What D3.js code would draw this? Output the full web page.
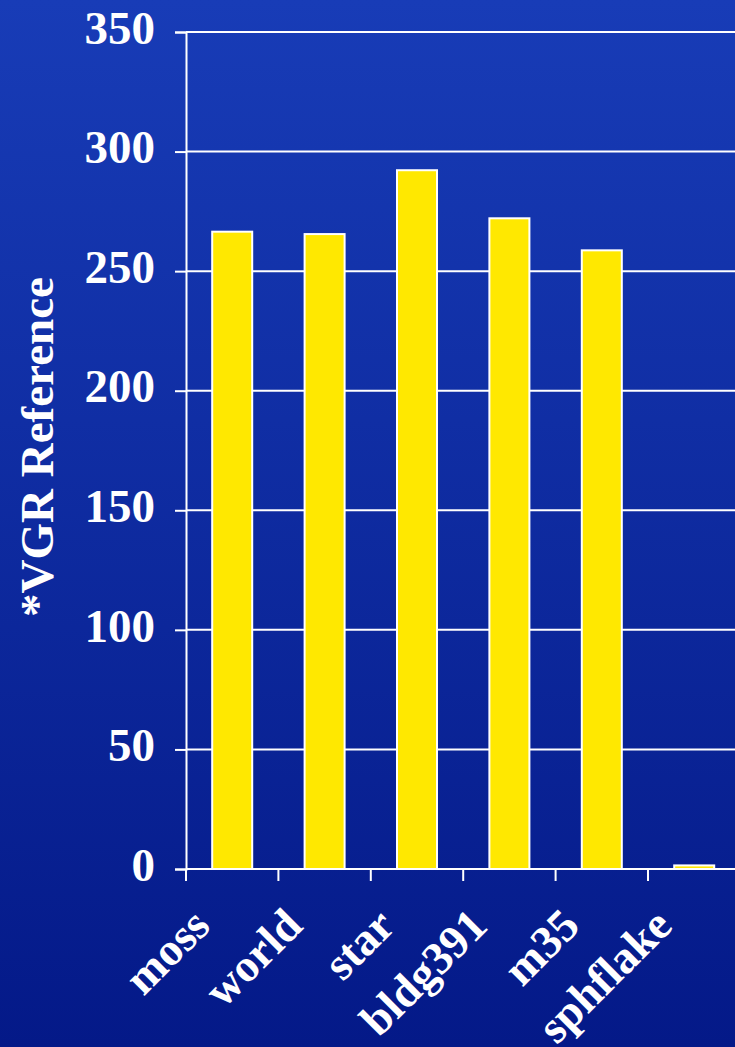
<!DOCTYPE html>
<html>
<head>
<meta charset="utf-8">
<script src="https://cdn.jsdelivr.net/npm/d3@7"></script>
<style>
  html, body { margin: 0; padding: 0; overflow: hidden; }
  svg { display: block; }
</style>
</head>
<body>
<svg id="chart" width="735" height="1047"></svg>
<script>
const categories = ["moss", "world", "star", "bldg391", "m35", "sphflake"];
const values = [266.5, 265.5, 292.2, 272.1, 258.7, 1.5];
const yTicks = [0, 50, 100, 150, 200, 250, 300, 350];
const yTitle = "*VGR Reference";

const W = 735, H = 1047;
const svg = d3.select("#chart");
const FONT = "'Liberation Serif', 'Times New Roman', Times, serif";

// background gradient
const defs = svg.append("defs");
const grad = defs.append("linearGradient").attr("id", "bg")
  .attr("x1", 0).attr("y1", 0).attr("x2", 0).attr("y2", 1);
grad.append("stop").attr("offset", "0%").attr("stop-color", "#183cb7");
grad.append("stop").attr("offset", "100%").attr("stop-color", "#041988");
svg.append("rect").attr("width", W).attr("height", H).attr("fill", "url(#bg)");

const x0 = 186, step = 92.4;
const pad = 0.567;
const x = d3.scaleBand().domain(categories)
  .range([x0, x0 + step * categories.length])
  .paddingInner(pad).paddingOuter(pad / 2);
const y = d3.scaleLinear().domain([0, 350]).range([869, 32]);

// gridlines
svg.append("g").selectAll("line").data(yTicks).join("line")
  .attr("x1", x0).attr("x2", W)
  .attr("y1", d => y(d)).attr("y2", d => y(d))
  .attr("stroke", "#fff").attr("stroke-width", 2);

// y axis
const yAxis = svg.append("g").attr("transform", `translate(${x0},0)`)
  .call(d3.axisLeft(y).tickValues(yTicks).tickSize(11).tickPadding(20));
yAxis.select(".domain").attr("stroke", "#fff").attr("stroke-width", 2);
yAxis.selectAll(".tick line").attr("stroke", "#fff").attr("stroke-width", 2);
yAxis.selectAll(".tick text")
  .attr("fill", "#fff")
  .attr("font-family", FONT)
  .attr("font-weight", "bold")
  .attr("font-size", 47)
  .attr("dy", "0.24em");

// bars
svg.append("g").selectAll("rect").data(categories).join("rect")
  .attr("x", d => x(d))
  .attr("width", x.bandwidth())
  .attr("y", (d, i) => y(values[i]))
  .attr("height", (d, i) => y(0) - y(values[i]))
  .attr("fill", "#ffe800")
  .attr("stroke", "#fff")
  .attr("stroke-width", 2);

// x axis baseline and ticks at category boundaries
const xg = svg.append("g");
xg.append("line").attr("x1", x0).attr("x2", W)
  .attr("y1", y(0)).attr("y2", y(0))
  .attr("stroke", "#fff").attr("stroke-width", 2);
xg.selectAll("line.tick").data(categories).join("line")
  .attr("class", "tick")
  .attr("x1", d => x(d) + x.bandwidth() / 2 - x.step() / 2)
  .attr("x2", d => x(d) + x.bandwidth() / 2 - x.step() / 2)
  .attr("y1", y(0)).attr("y2", y(0) + 12)
  .attr("stroke", "#fff").attr("stroke-width", 2);

// category labels
xg.selectAll("text").data(categories).join("text")
  .attr("transform", d => `translate(${x(d) + x.bandwidth() / 2 - 20},928) rotate(-45)`)
  .attr("text-anchor", "end")
  .attr("fill", "#fff")
  .attr("font-family", FONT)
  .attr("font-weight", "bold")
  .attr("font-size", 46)
  .text(d => d);

// y title
svg.append("text")
  .attr("transform", "translate(53,447) rotate(-90)")
  .attr("text-anchor", "middle")
  .attr("fill", "#fff")
  .attr("font-family", FONT)
  .attr("font-weight", "bold")
  .attr("font-size", 47)
  .text(yTitle);
</script>
</body>
</html>
